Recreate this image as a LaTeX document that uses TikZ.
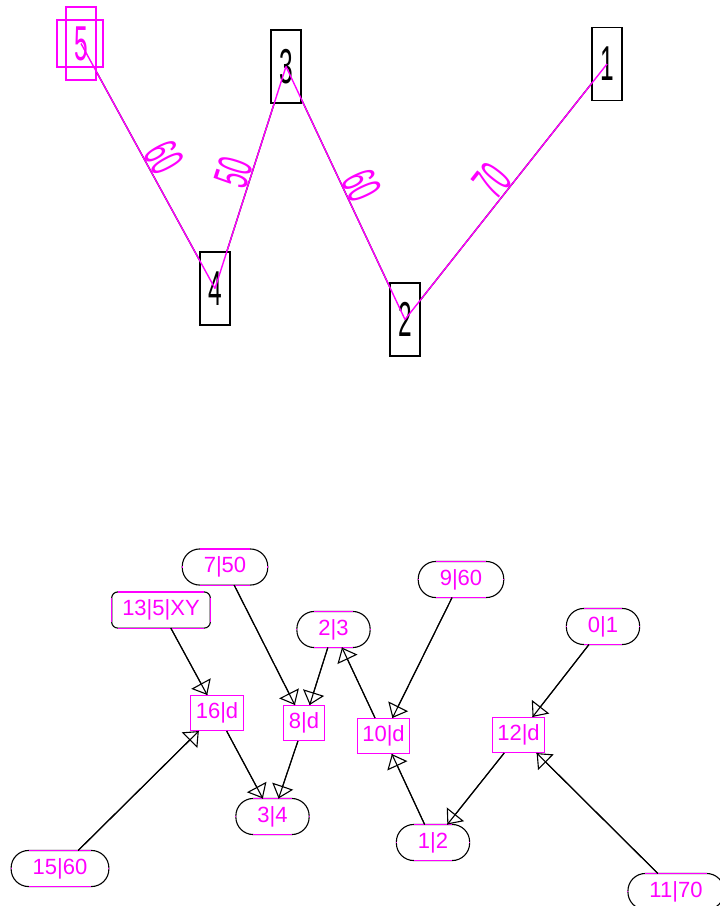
\documentclass[tikz,border=0pt]{standalone}
\usepackage{fontspec}
\usepackage{xcolor}
\usetikzlibrary{arrows.meta}
\newfontfamily\cadfont{Liberation Sans}
\newfontfamily\cadnarrow[FakeStretch=0.5]{Liberation Sans}
\definecolor{selmagenta}{HTML}{FF00FF}

\tikzset{
  % black rounded outline, its straight parts redrawn in magenta
  trimmed/.style={draw=none, append after command={\pgfextra{
    \draw[rounded corners=#1] (\tikzlastnode.north west) rectangle (\tikzlastnode.south east);
    \draw[selmagenta]
      ([xshift=#1]\tikzlastnode.north west) -- ([xshift=-#1]\tikzlastnode.north east)
      ([xshift=#1]\tikzlastnode.south west) -- ([xshift=-#1]\tikzlastnode.south east)
      ([yshift=-#1]\tikzlastnode.north west) -- ([yshift=#1]\tikzlastnode.south west)
      ([yshift=-#1]\tikzlastnode.north east) -- ([yshift=#1]\tikzlastnode.south east);
  }}},
  field/.style={font=\cadfont\fontsize{22}{22}\selectfont, text=selmagenta,
    minimum height=35pt, inner ysep=0pt},
  pill/.style={field, inner xsep=21pt, trimmed=17.5pt},
  tag/.style={field, inner xsep=10pt, trimmed=6pt},
  cell/.style={field, draw=selmagenta, inner xsep=5pt},
  digit/.style={draw, minimum width=30pt, minimum height=73pt, inner sep=0pt,
    font=\cadnarrow\fontsize{49}{49}\selectfont},
  weight/.style={sloped, above, inner sep=0pt, text=selmagenta,
    font=\cadnarrow\fontsize{49}{49}\selectfont},
  link/.style={-{Triangle[open, length=13pt, width=22pt]}, postaction={draw, -}},
}

\begin{document}
\begin{tikzpicture}[x=1pt, y=-1pt, line width=1.1pt]
\useasboundingbox (0,0) rectangle (720,906);

% route
\node[digit, draw=selmagenta, text=selmagenta] (n5) at (81,43.5) {5};
\node[draw=selmagenta, minimum width=46pt, minimum height=47pt, inner sep=0pt] (n5sel) at (80,43.5) {};
\node[digit] (n4) at (215,288.5) {4};
\node[digit] (n3) at (286,66.5) {3};
\node[digit] (n2) at (405,319.5) {2};
\node[digit] (n1) at (607,64) {1};

\foreach \a/\b/\w in {n5/n4/60, n4/n3/50, n3/n2/60, n2/n1/70} {
  \draw[line width=1.3pt] (\a) -- (\b);
  \draw[selmagenta, line width=1.4pt, xshift=0.9pt] (\a.center) -- node[weight] {\w} (\b.center);
}

% graph
\node[pill] (p7) at (225,567) {7|50};
\node[tag] (t13) at (161,610) {13|5|XY};
\node[pill] (p2) at (333.5,629.5) {2|3};
\node[pill] (p9) at (461,579.5) {9|60};
\node[pill] (p0) at (603,626.5) {0|1};
\node[cell] (c16) at (217,713) {16|d};
\node[cell] (c8) at (304,723) {8|d};
\node[cell] (c10) at (383.5,736) {10|d};
\node[cell] (c12) at (518.5,735) {12|d};
\node[pill] (p3) at (272.5,816.5) {3|4};
\node[pill] (p1) at (433,842.5) {1|2};
\node[pill] (p15) at (60,868.5) {15|60};
\node[pill] (p11) at (676,891.5) {11|70};

\foreach \a/\b in {t13/c16, p7/c8, p2/c8, c10/p2, p9/c10, p0/c12,
                   c16/p3, c8/p3, p15/c16, p1/c10, c12/p1, p11/c12}
  \draw[link] (\a) -- (\b);
\end{tikzpicture}
\end{document}
